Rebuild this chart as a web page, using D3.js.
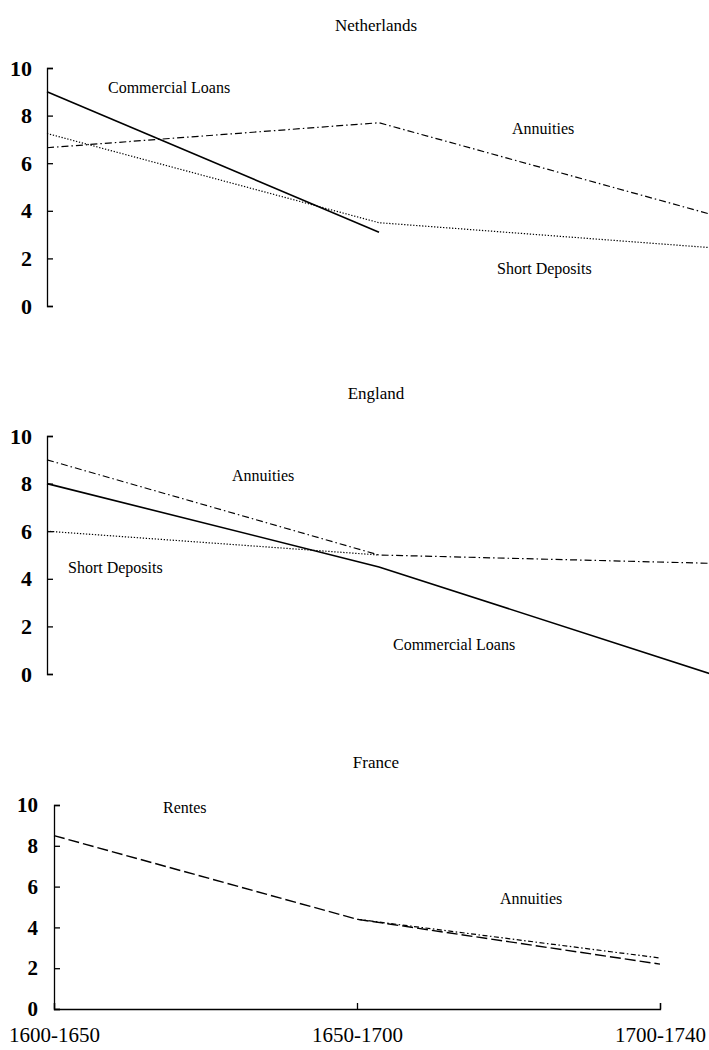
<!DOCTYPE html>
<html>
<head>
<meta charset="utf-8">
<script src="https://cdn.jsdelivr.net/npm/d3@7"></script>
<style>
  html, body { margin: 0; padding: 0; background: #fff; }
  svg { display: block; }
</style>
</head>
<body>
<svg id="chart" width="709" height="1050"></svg>
<script>
// Interest rates (%) by period, three countries
const periods = ["1600-1650", "1650-1700", "1700-1740"];
const yTicks = [0, 2, 4, 6, 8, 10];

const nlCommercialLoans = [9.0, 3.1, null];
const nlAnnuities = [6.65, 7.7, 3.85];
const nlShortDeposits = [7.25, 3.5, 2.45];

const enAnnuities = [9.0, 5.0, 4.65];
const enCommercialLoans = [8.0, 4.5, 0.0];
const enShortDeposits = [6.0, 5.0, null];

const frRentes = [8.5, 4.4, 2.2];
const frAnnuities = [null, 4.4, 2.5];

// line styles
const STYLE = {
  solid:   { dash: null,            width: 1.6 },
  dotted:  { dash: "1.3,1.7",       width: 1.2 },
  dashDot: { dash: "7,3,1.5,3",     width: 1.2 },
  longDash:{ dash: "11,4",          width: 1.4 },
  shortDashDot: { dash: "5,2.5,1.5,2.5", width: 1.2 }
};

const panels = [
  {
    title: "Netherlands", titleY: 31,
    x0: 47, x1: 711, yTop: 68, yBottom: 306, labelPad: 15, xAxis: false, tickFont: 22,
    series: [
      { values: nlCommercialLoans, style: "solid" },
      { values: nlAnnuities, style: "dashDot" },
      { values: nlShortDeposits, style: "dotted" }
    ],
    notes: [
      { text: "Commercial Loans", x: 108, y: 93 },
      { text: "Annuities", x: 512, y: 134 },
      { text: "Short Deposits", x: 497, y: 274 }
    ]
  },
  {
    title: "England", titleY: 399,
    x0: 47, x1: 711, yTop: 436, yBottom: 674, labelPad: 15, xAxis: false, tickFont: 22,
    series: [
      { values: enCommercialLoans, style: "solid" },
      { values: enAnnuities, style: "dashDot" },
      { values: enShortDeposits, style: "dotted" }
    ],
    notes: [
      { text: "Annuities", x: 232, y: 481 },
      { text: "Short Deposits", x: 68, y: 573 },
      { text: "Commercial Loans", x: 393, y: 650 }
    ]
  },
  {
    title: "France", titleY: 768,
    x0: 54, x1: 660, yTop: 805, yBottom: 1009, labelPad: 16, xAxis: true, tickFont: 21,
    series: [
      { values: frRentes, style: "longDash" },
      { values: frAnnuities, style: "shortDashDot" }
    ],
    notes: [
      { text: "Rentes", x: 163, y: 813 },
      { text: "Annuities", x: 500, y: 904 }
    ]
  }
];

const svg = d3.select("#chart");
const serif = "'Liberation Serif', 'Times New Roman', serif";

panels.forEach(p => {
  const g = svg.append("g");

  const x = d3.scalePoint().domain(periods).range([p.x0, p.x1]);
  const y = d3.scaleLinear().domain([0, 10]).range([p.yBottom, p.yTop]);

  // title
  g.append("text")
    .attr("x", 376).attr("y", p.titleY)
    .attr("text-anchor", "middle")
    .attr("font-family", serif).attr("font-size", 17)
    .text(p.title);

  // y axis with inward ticks
  const yAxis = d3.axisLeft(y)
    .tickValues(yTicks)
    .tickFormat(d3.format("d"))
    .tickSizeInner(-6)
    .tickSizeOuter(-6)
    .tickPadding(p.labelPad);
  const ya = g.append("g")
    .attr("transform", `translate(${p.x0},0)`)
    .call(yAxis);
  ya.selectAll("path, line").attr("stroke", "#000").attr("stroke-width", 1.3);
  ya.selectAll("text")
    .attr("font-family", serif)
    .attr("font-size", p.tickFont)
    .attr("font-weight", "bold")
    .attr("fill", "#000");

  if (p.xAxis) {
    const xAxis = d3.axisBottom(x)
      .tickSizeInner(-6)
      .tickSizeOuter(-6)
      .tickPadding(18);
    const xa = g.append("g")
      .attr("transform", `translate(0,${p.yBottom})`)
      .call(xAxis);
    xa.selectAll("path, line").attr("stroke", "#000").attr("stroke-width", 1.3);
    xa.selectAll("text")
      .attr("font-family", serif)
      .attr("font-size", 21)
      .attr("fill", "#000");
  }

  // series lines
  const line = d3.line()
    .defined(d => d.v !== null)
    .x(d => x(d.p))
    .y(d => y(d.v));

  p.series.forEach(s => {
    const st = STYLE[s.style];
    const pts = periods.map((per, i) => ({ p: per, v: s.values[i] }));
    g.append("path")
      .datum(pts)
      .attr("d", line)
      .attr("fill", "none")
      .attr("stroke", "#000")
      .attr("stroke-width", st.width)
      .attr("stroke-dasharray", st.dash);
  });

  // series labels
  p.notes.forEach(n => {
    g.append("text")
      .attr("x", n.x).attr("y", n.y)
      .attr("font-family", serif)
      .attr("font-size", 16)
      .attr("fill", "#000")
      .text(n.text);
  });
});
</script>
</body>
</html>
